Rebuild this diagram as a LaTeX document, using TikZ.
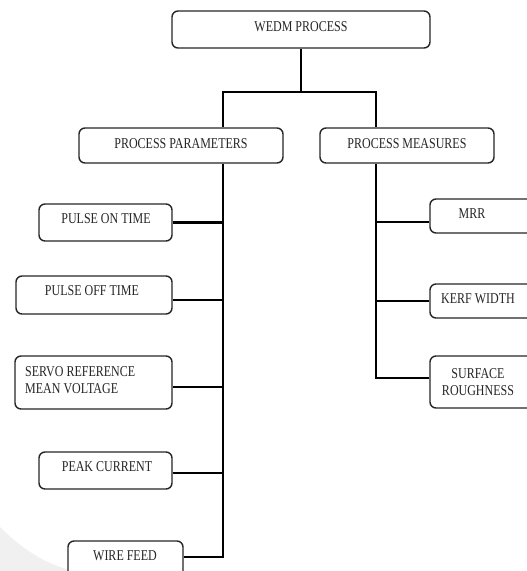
\documentclass[tikz,border=0pt]{standalone}
\usepackage{fontspec}
\newfontfamily\tf[FakeStretch=0.8]{Liberation Serif}
\begin{document}
\begin{tikzpicture}[x=1pt,y=-1pt,
  box/.style={draw=black!85, line width=1.4pt, rounded corners=6pt, fill=white, inner sep=0pt},
  lbl/.style={font=\tf\fontsize{15}{17}\selectfont, inner sep=0pt, text=black!85},
  conn/.style={draw=black, line width=2.4pt}]
\useasboundingbox (0,0) rectangle (527,571);
\fill[gray!12] (0,527) .. controls (25,552) and (50,566) .. (75,571) -- (0,571) -- cycle;
% boxes
\node[box, minimum width=258pt, minimum height=37pt] (wedm) at (301,29.5) {};
\node[lbl] (wedmt) at (301,27) {WEDM PROCESS};
\node[box, minimum width=204pt, minimum height=35pt] (pp) at (181,145.5) {};
\node[lbl] (ppt) at (181,144) {PROCESS PARAMETERS};
\node[box, minimum width=174pt, minimum height=35pt] (pm) at (407,145.5) {};
\node[lbl] (pmt) at (407,144) {PROCESS MEASURES};
\node[box, minimum width=133pt, minimum height=37pt] (pon) at (105.5,222.5) {};
\node[lbl] (pont) at (106,219) {PULSE ON TIME};
\node[box, minimum width=156pt, minimum height=38pt] (poff) at (94,295) {};
\node[lbl] (pofft) at (92,291) {PULSE OFF TIME};
\node[box, minimum width=157pt, minimum height=53pt] (servo) at (93.5,382.5) {};
\node[lbl, align=left, anchor=west] (servot) at (25,380.5) {SERVO REFERENCE\\MEAN VOLTAGE};
\node[box, minimum width=133pt, minimum height=37pt] (peak) at (105.5,470.5) {};
\node[lbl] (peakt) at (107,467) {PEAK CURRENT};
\node[box, minimum width=115pt, minimum height=60pt] (wire) at (125.5,571) {};
\node[lbl] (wiret) at (125,556) {WIRE FEED};
\node[box, minimum width=120pt, minimum height=34pt] (mrr) at (490,216) {};
\node[lbl] (mrrt) at (472,214) {MRR};
\node[box, minimum width=120pt, minimum height=34pt] (kerf) at (490,301) {};
\node[lbl] (kerft) at (478,299) {KERF WIDTH};
\node[box, minimum width=120pt, minimum height=52pt] (surf) at (490,382) {};
\node[lbl, align=center] (surft) at (478,382) {SURFACE\\ROUGHNESS};
% connectors
\coordinate (j) at (301,92);
\coordinate (lj) at (223,92);
\coordinate (rj) at (376,92);
\coordinate (lb) at (223,557);
\coordinate (rb) at (376,378);
\draw[conn] (wedm.south) -- (j);
\draw[conn, line cap=rect] (lj) -- (rj);
\draw[conn] (lj) -- (lj |- pp.north);
\draw[conn] (rj) -- (rj |- pm.north);
\draw[conn] (lj |- pp.south) -- (lb) -- (lb -| wire.east);
\draw[conn] (rj |- pm.south) -- (rb) -- (rb -| surf.west);
\draw[conn] (pon.east) -- (pon.east -| lj);
\draw[conn] ([yshift=-5pt]poff.east) -- ([yshift=-5pt]poff.east -| lj);
\draw[conn] ([yshift=-4.5pt]servo.east) -- ([yshift=-4.5pt]servo.east -| lj);
\draw[conn] ([yshift=-2.5pt]peak.east) -- ([yshift=-2.5pt]peak.east -| lj);
\draw[conn] ([yshift=-6pt]mrr.west) -- ([yshift=-6pt]mrr.west -| rj);
\draw[conn] (kerf.west) -- (kerf.west -| rj);
\end{tikzpicture}
\end{document}
